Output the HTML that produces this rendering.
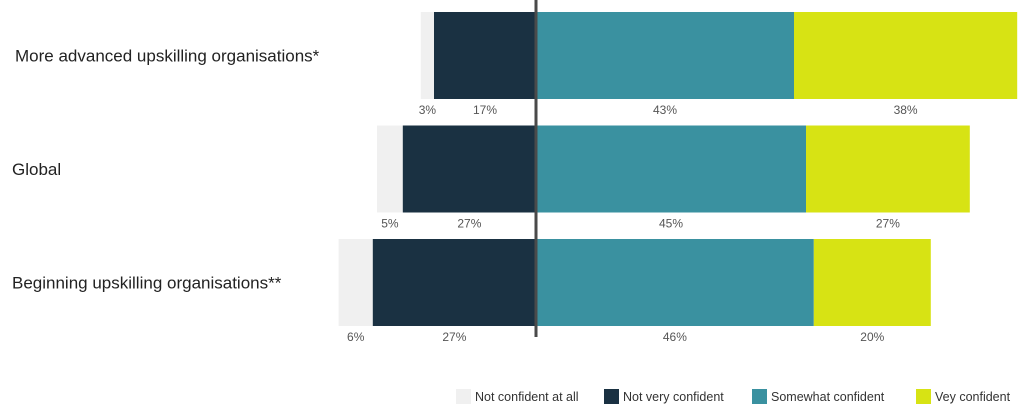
<!DOCTYPE html>
<html><head><meta charset="utf-8"><style>
body{margin:0;background:#fff;width:1024px;height:412px;overflow:hidden;font-family:"Liberation Sans",sans-serif}
</style></head><body>
<svg width="1024" height="412" xmlns="http://www.w3.org/2000/svg">
<g id="bars"></g>
<g id="labels"></g>
<line x1="536" y1="0" x2="536" y2="337" stroke="#4a4a4a" stroke-width="3"/>
<g id="legend"></g>
</svg>
<script>
const categories = ["More advanced upskilling organisations*", "Global", "Beginning upskilling organisations**"];
const seriesNames = ["Not confident at all", "Not very confident", "Somewhat confident", "Vey confident"];
const notAtAll = [2.2, 4.3, 5.7];
const notVery = [17, 22.2, 27.2];
const somewhat = [43, 45, 46.3];
const very = [37.2, 27.3, 19.5];
const segLabels = [["3%","17%","43%","38%"],["5%","27%","45%","27%"],["6%","27%","46%","20%"]];
const colors = ["#f0f0f0","#1a3142","#3a91a0","#d7e314"];
const NS = "http://www.w3.org/2000/svg";
const cx = 536, pxPer = 6;
const x = v => cx + v*pxPer;
const rowTop = i => 12 + i*113.5;
const barH = 87;
const gB = document.getElementById("bars"), gL = document.getElementById("labels"), gLg = document.getElementById("legend");
function mk(tag, attrs){const e=document.createElementNS(NS,tag);for(const k in attrs)e.setAttribute(k,attrs[k]);return e;}
categories.forEach((c,i)=>{
  const y = rowTop(i);
  const segs = [[-(notAtAll[i]+notVery[i]), -notVery[i]], [-notVery[i], 0], [0, somewhat[i]], [somewhat[i], somewhat[i]+very[i]]];
  segs.forEach((s,j)=>{
    const r = mk("rect",{x:x(s[0]),y:y,width:x(s[1])-x(s[0]),height:barH,fill:colors[j]});
    
    
    gB.appendChild(r);
    const t = mk("text",{x:(x(s[0])+x(s[1]))/2,y:y+barH+15,"text-anchor":"middle","font-size":"12",fill:"#555"});
    t.textContent = segLabels[i][j];
    
    
    gL.appendChild(t);
  });
  const ct = mk("text",{x:i==0?15:12,y:y+barH/2+6,"font-size":"17",fill:"#222"});
  ct.textContent = c;
  
  
  gL.appendChild(ct);
});
const legX = [456, 604, 752, 916];
seriesNames.forEach((n,j)=>{
  const r = mk("rect",{x:legX[j],y:389,width:15,height:15,fill:colors[j]});
  
  
  gLg.appendChild(r);
  const t = mk("text",{x:legX[j]+19,y:401,"font-size":"12.5",fill:"#333"});
  t.textContent = n;
  
  
  gLg.appendChild(t);
});
</script>
</body></html>
